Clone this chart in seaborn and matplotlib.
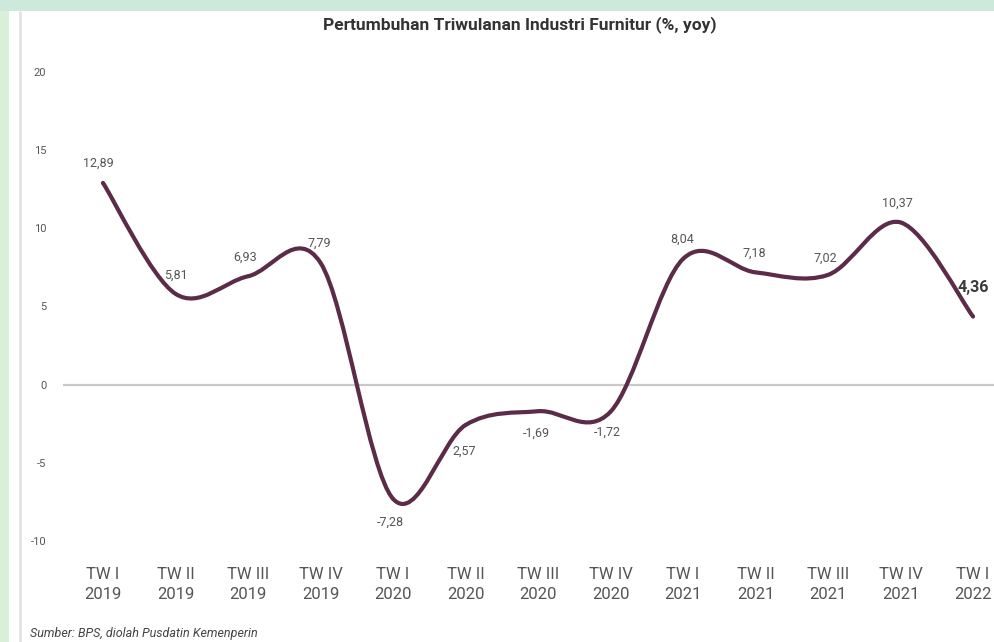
import matplotlib
matplotlib.use("Agg")
import matplotlib.pyplot as plt
from matplotlib.path import Path
from matplotlib.patches import PathPatch, Rectangle
import seaborn as sns
import numpy as np
import pandas as pd

quarters = ["TW I\n2019", "TW II\n2019", "TW III\n2019", "TW IV\n2019",
            "TW I\n2020", "TW II\n2020", "TW III\n2020", "TW IV\n2020",
            "TW I\n2021", "TW II\n2021", "TW III\n2021", "TW IV\n2021",
            "TW I\n2022"]
growth = [12.89, 5.81, 6.93, 7.79, -7.28, -2.57, -1.69, -1.72,
          8.04, 7.18, 7.02, 10.37, 4.36]
value_labels = ["12,89", "5,81", "6,93", "7,79", "-7,28", "2,57", "-1,69",
                "-1,72", "8,04", "7,18", "7,02", "10,37", "4,36"]
y_ticks = [-10, -5, 0, 5, 10, 15, 20]

title = "Pertumbuhan Triwulanan Industri Furnitur (%, yoy)"
source = "Sumber: BPS, diolah Pusdatin Kemenperin"

# label offsets in points (dx, dy)
label_offsets = [(-3, 14), (0, 13), (-2, 14), (-1, 14), (-2, -17), (-1, -19),
                 (-1, -16), (-2, -15), (-1, 14), (-1, 14), (-2, 12), (-2, 14),
                 (0, 21)]

line_color = "#5c2b47"
text_gray = "#555555"

sns.set_theme(style="white")
plt.rcParams["font.family"] = ["Roboto", "DejaVu Sans"]

df = pd.DataFrame({"pos": np.arange(len(growth)), "growth": growth})

fig = plt.figure(figsize=(9.95, 6.42), dpi=100)
fig.patch.set_facecolor("white")

# watermark-ish borders of the scanned page
fig.add_artist(Rectangle((0, 1 - 11 / 642), 1, 11 / 642, transform=fig.transFigure,
                         facecolor="#cce9dc", edgecolor="none"))
fig.add_artist(Rectangle((0, 0), 9 / 995, 1 - 11 / 642, transform=fig.transFigure,
                         facecolor="#d9efd9", edgecolor="none"))
fig.add_artist(plt.Line2D([20 / 995, 20 / 995], [0, 1 - 12 / 642], transform=fig.transFigure,
                          color="#e2e2e2", lw=2))

ax = fig.add_axes([63 / 995, 1 - 557 / 642, (995 - 63) / 995, (557 - 56) / 642])
ax.set_facecolor("none")

ax.axhline(0, color="#c9c9c9", lw=1.6, zorder=1)

# smooth line through the points (Catmull-Rom as cubic Bezier segments)
pts = np.column_stack([df["pos"].values, df["growth"].values]).astype(float)
n = len(pts)
verts = [pts[0]]
codes = [Path.MOVETO]
for i in range(n - 1):
    p0 = pts[i - 1] if i > 0 else pts[i]
    p1 = pts[i]
    p2 = pts[i + 1]
    p3 = pts[i + 2] if i + 2 < n else pts[i + 1]
    c1 = p1 + (p2 - p0) / 6.0
    c2 = p2 - (p3 - p1) / 6.0
    verts += [c1, c2, p2]
    codes += [Path.CURVE4] * 3
ax.add_patch(PathPatch(Path(verts, codes), facecolor="none", edgecolor=line_color,
                       lw=3, capstyle="round", joinstyle="round", zorder=3))
sns.scatterplot(data=df, x="pos", y="growth", ax=ax, color=line_color, s=6,
                edgecolor="none", zorder=4, legend=False)

for i, (v, lab) in enumerate(zip(growth, value_labels)):
    last = i == len(growth) - 1
    ax.annotate(lab, (i, v), xytext=label_offsets[i], textcoords="offset points",
                ha="center", va="center",
                fontsize=11.5 if last else 9,
                fontweight="bold" if last else "normal",
                color="#3a3a3a" if last else text_gray, zorder=5)

ax.set_xlim(-0.552, 12.303)
ax.set_ylim(-11, 21)
ax.set_yticks(y_ticks)
ax.set_yticklabels([str(t) for t in y_ticks], fontsize=8, color=text_gray)
ax.set_xticks(range(len(quarters)))
ax.set_xticklabels(quarters, fontsize=12, color=text_gray, linespacing=1.4)
ax.tick_params(axis="y", length=0, pad=12)
ax.tick_params(axis="x", length=0, pad=7)
ax.set_xlabel("")
ax.set_ylabel("")
for s in ax.spines.values():
    s.set_visible(False)

fig.text(520 / 995, 1 - 25 / 642, title, ha="center", va="center",
         fontsize=12.5, fontweight="bold", color="#333333")
fig.text(30 / 995, 1 - 633 / 642, source, ha="left", va="center",
         fontsize=9, style="italic", color="#444444")

fig.savefig("out.png", dpi=100)
